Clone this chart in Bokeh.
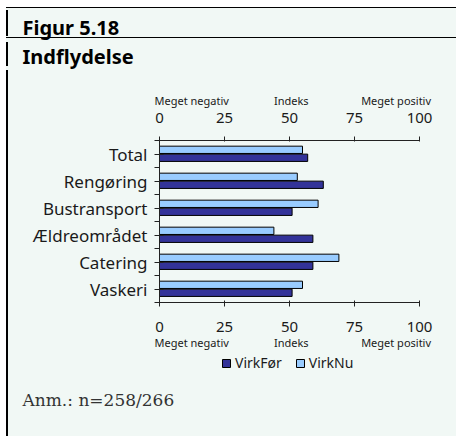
from bokeh.plotting import figure
from bokeh.models import (Range1d, LinearAxis, FixedTicker, Label, Legend, LegendItem,
                          ColumnDataSource)
from bokeh.layouts import column
from bokeh.transform import dodge
from bokeh.embed import file_html
from bokeh.resources import INLINE
import numpy as np

# ---------------- data ----------------
categories = ["Total", "Rengøring", "Bustransport", "Ældreområdet", "Catering", "Vaskeri"]
virk_foer = [57, 63, 51, 59, 59, 51]
virk_nu = [55, 53, 61, 44, 69, 55]
series_names = ["VirkFør", "VirkNu"]
x_ticks = [0, 25, 50, 75, 100]
scale_labels = ["Meget negativ", "Indeks", "Meget positiv"]
fig_title = "Figur 5.18"
fig_subtitle = "Indflydelse"
note = "Anm.:  n=258/266"

# ---------------- style ----------------
BG = "#f1f8f5"
C_FOER = "#333399"
C_NU = "#99ccff"
SANS = "Noto Sans"
TXT = "#1a1a1a"
W, H = 456, 436
H_TOP = 78                 # header strip (titles)
FL, FR, FT, FB = 159, 37, 62, 49   # borders around the chart frame
FRAME_H = 163
H_MAIN = FT + FRAME_H + FB
H_BOT = H - H_TOP - H_MAIN         # footer strip (legend, note)
SCALE_LABEL_POS = [12.4, 50.7, 91.0]   # centres of the scale captions (x units)

n = len(categories)
pos = np.arange(n)[::-1].astype(float)   # Total at the top
src = ColumnDataSource(dict(cat=categories, pos=pos, foer=virk_foer, nu=virk_nu))


def strip(height, x_range=(0, 100), y_range=(0, 1)):
    f = figure(width=W, height=height, output_backend="svg", toolbar_location=None,
               title=None, x_axis_type=None, y_axis_type=None, min_border=0,
               frame_align=False, x_range=Range1d(*x_range), y_range=Range1d(*y_range),
               background_fill_alpha=0, border_fill_alpha=0, outline_line_color=None)
    f.xgrid.visible = False
    f.ygrid.visible = False
    return f


def add_text(f, txt, x, baseline_from_top, size_px, align="left", font=SANS,
             style="normal", color=TXT):
    # Bokeh draws "alphabetic" text a little low; lift it by about a third of an em
    y = f.height - baseline_from_top + 0.34 * size_px
    f.add_layout(Label(x=x, y=y, x_units="screen", y_units="screen",
                       text=txt, text_font=font, text_font_size=f"{size_px}px",
                       text_font_style=style, text_color=color, text_align=align,
                       text_baseline="alphabetic"))


# ---------------- header ----------------
top = strip(H_TOP)
add_text(top, fig_title, 22, 33.3, 20, style="bold", color="black")
add_text(top, fig_subtitle, 22, 62.7, 20, style="bold", color="black")

# ---------------- chart ----------------
p = figure(width=W, height=H_MAIN, x_range=Range1d(0, 100), y_range=Range1d(-0.5, n - 0.5),
           output_backend="svg", toolbar_location=None, title=None, frame_align=False,
           min_border_left=FL, min_border_right=FR, min_border_top=FT, min_border_bottom=FB,
           background_fill_color=BG, border_fill_alpha=0, outline_line_color=None)
p.xgrid.visible = False
p.ygrid.visible = False

r_nu = p.hbar(y=dodge("pos", 0.155), left=0, right="nu", height=0.27, source=src,
              fill_color=C_NU, line_color="black", line_width=1)
r_foer = p.hbar(y=dodge("pos", -0.14), left=0, right="foer", height=0.27, source=src,
                fill_color=C_FOER, line_color="black", line_width=1)

yax = p.yaxis[0]
yax.ticker = FixedTicker(ticks=list(pos), minor_ticks=list(np.arange(n + 1) - 0.5))
yax.major_label_overrides = {int(k): c for k, c in zip(pos, categories)}
yax.major_tick_out = 5
yax.major_tick_in = 4
yax.minor_tick_out = 5
yax.minor_tick_in = 0
yax.major_label_standoff = 7
yax.major_label_text_font = SANS
yax.major_label_text_font_size = "17px"
yax.major_label_text_color = TXT
yax.axis_line_color = "#222222"
yax.major_tick_line_color = "#222222"
yax.minor_tick_line_color = "#222222"


def style_num(ax, tin, standoff):
    ax.ticker = FixedTicker(ticks=x_ticks, minor_ticks=[])
    ax.major_tick_out = 4
    ax.major_tick_in = tin
    ax.minor_tick_out = 0
    ax.minor_tick_in = 0
    ax.major_label_standoff = standoff
    ax.major_label_text_font = SANS
    ax.major_label_text_font_size = "15px"
    ax.major_label_text_color = TXT
    ax.axis_line_color = "#222222"
    ax.major_tick_line_color = "#222222"


def caption_axis(standoff):
    ax = LinearAxis(ticker=FixedTicker(ticks=SCALE_LABEL_POS, minor_ticks=[]))
    ax.major_label_overrides = {float(k): t for k, t in zip(SCALE_LABEL_POS, scale_labels)}
    ax.axis_line_color = None
    ax.major_tick_line_color = None
    ax.minor_tick_line_color = None
    ax.major_tick_in = 0
    ax.major_tick_out = 0
    ax.minor_tick_in = 0
    ax.minor_tick_out = 0
    ax.major_label_standoff = standoff
    ax.major_label_text_font = SANS
    ax.major_label_text_font_size = "11px"
    ax.major_label_text_color = TXT
    return ax


style_num(p.xaxis[0], 2, 15)
top_ax = LinearAxis()
style_num(top_ax, 1, 14)
p.add_layout(top_ax, "above")
p.add_layout(caption_axis(2), "above")
p.add_layout(caption_axis(0), "below")

# ---------------- footer ----------------
# legend swatches: the same bars, drawn into ranges where they stay out of sight
bot = strip(H_BOT, x_range=(-300, -299), y_range=(-300, -299))
sw_foer = bot.hbar(y="pos", left=0, right="foer", height=0.27, source=src,
                   fill_color=C_FOER, line_color="black")
sw_nu = bot.hbar(y="pos", left=0, right="nu", height=0.27, source=src,
                 fill_color=C_NU, line_color="black")
LEGEND_BOX_H = 19.5            # height Bokeh gives a 14px legend row
legend_box_top = 352.5 - (H_TOP + H_MAIN)
legend = Legend(items=[LegendItem(label=series_names[0], renderers=[sw_foer]),
                       LegendItem(label=series_names[1], renderers=[sw_nu])],
                orientation="horizontal",
                location=(221, H_BOT - legend_box_top - LEGEND_BOX_H),
                glyph_width=10, glyph_height=10, label_height=10, label_standoff=4,
                spacing=13, padding=0, margin=0, border_line_color=None,
                background_fill_alpha=0, label_text_font=SANS, label_text_font_size="14px",
                label_text_color=TXT)
bot.add_layout(legend, "center")
add_text(bot, note, 22, 405.7 - (H_TOP + H_MAIN), 17, font="DejaVu Serif", color="#333333")

# ---------------- page frame (background + rules) ----------------
rules = ",".join(["linear-gradient(#000,#000)"] * 5 + [f"linear-gradient({BG},{BG})"])
layout = column(top, p, bot, spacing=0, styles={
    "background-color": "white",
    "background-image": rules,
    "background-size": "100% 1px, 100% 1px, 2px 26px, 2px 24px, 2px 366px, 100% 100%",
    "background-position": "6px 7px, 6px 37px, 6px 10px, 6px 42px, 6px 70px, 6px 7px",
    "background-repeat": "no-repeat",
})

open("out.html", "w").write(file_html(layout, INLINE))
